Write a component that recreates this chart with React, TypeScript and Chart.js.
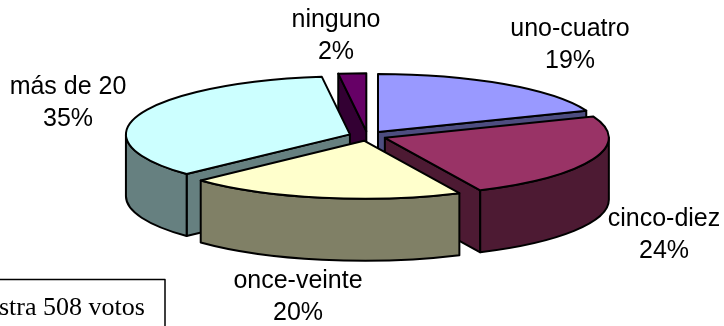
import { useEffect, useRef } from "react";
import { Chart, registerables } from "chart.js";

Chart.register(...registerables);

const categories = ["uno-cuatro", "cinco-diez", "once-veinte", "más de 20", "ninguno"];
const percentages = [19, 24, 20, 35, 2];
const topColors = ["#9999FF", "#993366", "#FFFFCC", "#CCFFFF", "#660066"];
const sideColors = ["#4D4D80", "#4D1A33", "#808066", "#668080", "#330033"];
const labelCentres = [
  [570, 29],
  [664, 219],
  [298, 281],
  [68, 87],
  [336, 20],
];
const sampleNote = "stra 508 votos";

// Flat arc radius from Chart.js, then stretched into an ellipse on screen.
const ARC_RADIUS = 120;
const EXPLODE = 10;
const RIM_X = 224;
const RIM_Y = 58;
const DEPTH = 62;

const pie3d = {
  id: "pie3d",
  beforeDatasetsDraw(chart: any) {
    const ctx = chart.ctx;
    const arcs = chart.getDatasetMeta(0).data;
    const slices = arcs.map((arc: any, i: number) => {
      const { x, y, startAngle, endAngle, outerRadius } = arc.getProps(
        ["x", "y", "startAngle", "endAngle", "outerRadius"],
        true,
      );
      const mid = (startAngle + endAngle) / 2;
      const shift = arc.options.offset / outerRadius;
      return {
        i,
        a: startAngle,
        b: endAngle,
        mid,
        px: x + Math.cos(mid) * shift * RIM_X,
        py: y + Math.sin(mid) * shift * RIM_Y,
      };
    });

    ctx.save();
    ctx.lineWidth = 2;
    ctx.lineJoin = "round";
    ctx.strokeStyle = "#000";

    const paint = (fill: string) => {
      ctx.fillStyle = fill;
      ctx.fill();
      ctx.stroke();
    };

    const radialWall = (s: any, t: number) => {
      const rx = s.px + Math.cos(t) * RIM_X;
      const ry = s.py + Math.sin(t) * RIM_Y;
      ctx.beginPath();
      ctx.moveTo(s.px, s.py);
      ctx.lineTo(rx, ry);
      ctx.lineTo(rx, ry + DEPTH);
      ctx.lineTo(s.px, s.py + DEPTH);
      ctx.closePath();
      paint(sideColors[s.i]);
    };

    // Back slices first, so the nearer ones cover them.
    [...slices]
      .sort((p: any, q: any) => Math.sin(p.mid) - Math.sin(q.mid))
      .forEach((s: any) => {
        if (Math.cos(s.a) < 0) radialWall(s, s.a);
        if (Math.cos(s.b) > 0) radialWall(s, s.b);

        const from = Math.max(s.a, 0);
        const to = Math.min(s.b, Math.PI);
        if (to > from) {
          ctx.beginPath();
          ctx.ellipse(s.px, s.py, RIM_X, RIM_Y, 0, from, to);
          ctx.ellipse(s.px, s.py + DEPTH, RIM_X, RIM_Y, 0, to, from, true);
          ctx.closePath();
          paint(sideColors[s.i]);
        }

        ctx.beginPath();
        ctx.moveTo(s.px, s.py);
        ctx.ellipse(s.px, s.py, RIM_X, RIM_Y, 0, s.a, s.b);
        ctx.closePath();
        paint(topColors[s.i]);
      });

    ctx.fillStyle = "#000";
    ctx.font = '25px "Liberation Sans"';
    ctx.textAlign = "center";
    ctx.textBaseline = "middle";
    categories.forEach((name, i) => {
      const [cx, cy] = labelCentres[i];
      ctx.fillText(name, cx, cy);
      ctx.fillText(`${percentages[i]}%`, cx, cy + 32);
    });

    ctx.lineWidth = 1.5;
    ctx.strokeRect(-10, 279.5, 175, 70);
    ctx.font = '26px "Liberation Serif"';
    ctx.textAlign = "left";
    ctx.textBaseline = "alphabetic";
    ctx.fillText(sampleNote, -1, 315);
    ctx.restore();
    return false;
  },
};

export default function App() {
  const canvasRef = useRef<HTMLCanvasElement>(null);

  useEffect(() => {
    const chart = new Chart(canvasRef.current!, {
      type: "pie",
      data: {
        labels: categories,
        datasets: [
          {
            data: percentages,
            backgroundColor: topColors,
            offset: EXPLODE,
            borderWidth: 0,
          },
        ],
      },
      options: {
        responsive: false,
        animation: false,
        radius: ARC_RADIUS,
        layout: { padding: { left: 11, bottom: 54 } },
        plugins: { legend: { display: false }, tooltip: { enabled: false } },
      },
      plugins: [pie3d],
    } as any);
    return () => chart.destroy();
  }, []);

  return (
    <div style={{ position: "fixed", left: 0, top: 0, width: 724, height: 326, background: "#fff" }}>
      <canvas ref={canvasRef} width={724} height={326} style={{ display: "block" }} />
    </div>
  );
}
